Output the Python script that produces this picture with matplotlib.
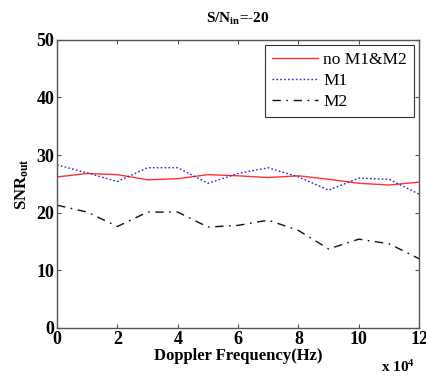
import matplotlib
matplotlib.use("Agg")
import matplotlib.pyplot as plt

# doppler frequency, units of 1e4 Hz
doppler = [0, 1, 2, 3, 4, 5, 6, 7, 8, 9, 10, 11, 12]
snr_none = [26.2, 26.8, 26.6, 25.7, 25.9, 26.6, 26.4, 26.1, 26.4, 25.8, 25.1, 24.8, 25.3]
snr_m1 = [28.3, 26.9, 25.4, 27.8, 27.8, 25.1, 26.8, 27.8, 26.2, 23.9, 26.0, 25.8, 23.2]
snr_m2 = [21.3, 20.1, 17.6, 20.1, 20.1, 17.5, 17.8, 18.7, 16.9, 13.7, 15.4, 14.6, 12.0]

series_labels = ["no M1&M2", "M1", "M2"]

plt.rcParams["font.family"] = ["Liberation Serif", "DejaVu Serif"]
plt.rcParams["mathtext.fontset"] = "custom"
plt.rcParams["mathtext.rm"] = "Liberation Serif:bold"
plt.rcParams["mathtext.it"] = "Liberation Serif:bold"
plt.rcParams["mathtext.bf"] = "Liberation Serif:bold"

fig = plt.figure(figsize=(4.26, 3.76), dpi=100)
fig.patch.set_facecolor("white")
ax = fig.add_axes([0.134, 0.128, 0.850, 0.766])

ax.plot(doppler, snr_none, color="#ff3030", linewidth=1.0, label=series_labels[0])
ax.plot(doppler, snr_m1, color="#2828d0", linewidth=1.0, linestyle=(0, (1.2, 1.6)),
        label=series_labels[1])
ax.plot(doppler, snr_m2, color="#111111", linewidth=1.0, linestyle=(0, (6, 4, 1.2, 4)),
        label=series_labels[2])

ax.set_xlim(0, 12)
ax.set_ylim(0, 50)
ax.set_xticks(range(0, 13, 2))
ax.set_yticks(range(0, 51, 10))
ax.tick_params(direction="in", length=3, width=0.8, top=True, right=True,
               labelsize=13, pad=2, colors="#555555", labelcolor="black")
for lbl in ax.get_xticklabels() + ax.get_yticklabels():
    lbl.set_fontweight("bold")
for spine in ax.spines.values():
    spine.set_color("#555555")
    spine.set_linewidth(1.0)

ax.set_xlabel("Doppler Frequency(Hz)", fontsize=12, fontweight="bold", labelpad=0)
ax.set_ylabel(r"SNR$_{\mathrm{out}}$", fontsize=12, fontweight="bold", labelpad=4)
ax.set_title(r"S/N$_{\mathrm{in}}$=-20", fontsize=11, fontweight="bold", pad=12)
ax.text(0.989, -0.152, r"x 10$^{4}$", transform=ax.transAxes, ha="right",
        va="baseline", fontsize=11, fontweight="bold")

leg = ax.legend(loc="upper right", fontsize=12.5, frameon=True, fancybox=False,
                borderaxespad=0.3, handlelength=2.65, handletextpad=0.3,
                labelspacing=0.28, borderpad=0.4)
leg.get_frame().set_edgecolor("black")
leg.get_frame().set_linewidth(0.8)

fig.savefig("out.png", dpi=100, facecolor="white")
